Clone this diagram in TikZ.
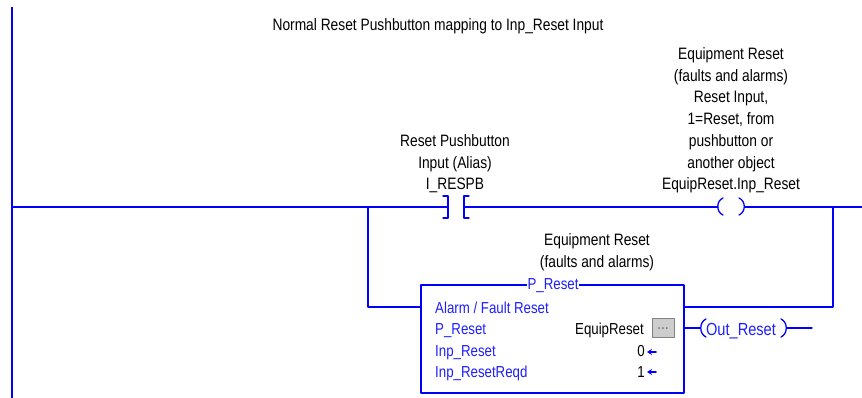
\documentclass[tikz,border=0pt]{standalone}
\usepackage{fontspec}
\setmainfont{Liberation Sans}[FakeStretch=0.835]
\usepackage{xcolor}
\usetikzlibrary{arrows.meta}
\definecolor{ladder}{RGB}{0,0,255}
\definecolor{ladtext}{RGB}{30,30,255}
\definecolor{btngray}{RGB}{205,205,205}
\definecolor{btnedge}{RGB}{130,130,130}
\newcommand{\lblfont}{\fontsize{16.5}{21.8}\selectfont}
\newcommand{\fbfont}{\fontsize{15.9}{21.3}\selectfont}

\begin{document}
\begin{tikzpicture}[x=1pt,y=-1pt,line cap=round,line join=round,
    wire/.style={draw=ladder,line width=1.3pt},
    lbl/.style={font=\lblfont,align=center,inner sep=0pt,anchor=base},
    fbtxt/.style={font=\fbfont,text=ladtext,inner sep=0pt,anchor=base west}]
	\useasboundingbox (0,0) rectangle (862,398);
	% power rail and rung
	\coordinate (railtop) at (12,7);
	\coordinate (railbot) at (12,398);
	\draw [wire,line width=2pt,line cap=butt] (railtop)-- (railbot);
	\coordinate (rungL) at (12,207);
	\coordinate (rungR) at (862,207);
	\coordinate (ctL) at (448,207);
	\coordinate (ctR) at (464,207);
	\coordinate (coilL) at (718,207);
	\coordinate (coilR) at (744,207);
	\draw [wire] (rungL)-- (ctL);
	\draw [wire] (ctR)-- (coilL);
	\draw [wire,line cap=butt] (coilR)-- (rungR);
	% contact I_RESPB
	\draw [wire] (443,196)-- (448,196)-- (448,218)-- (443,218);
	\draw [wire] (469,196)-- (464,196)-- (464,218)-- (469,218);
	% coil EquipReset.Inp_Reset
	\draw [wire] (723,198) .. controls (716,201) and (716,212) .. (723,215);
	\draw [wire] (739,198) .. controls (746,201) and (746,212) .. (739,215);
	% P_Reset block
	\node [draw=ladder,line width=1.2pt,minimum width=263pt,minimum height=108pt,inner sep=0pt] (fb) at (552.5,339) {};
	\node [font=\fbfont,text=ladtext,fill=white,inner xsep=1pt,inner ysep=0pt] (fbname) at (553,286) {P\_Reset};
	\coordinate (brL) at (368,207);
	\coordinate (fbin) at (421,307);
	\coordinate (fbout) at (684,307);
	\coordinate (brR) at (833,207);
	\draw [wire] (brL) |- (fbin);
	\draw [wire] (fbout) -| (brR);
	\node [fbtxt] (fbdesc) at (435,313) {Alarm / Fault Reset};
	\node [fbtxt] (fbtag) at (435,334) {P\_Reset};
	\node [fbtxt] (fbinp) at (435,356) {Inp\_Reset};
	\node [fbtxt] (fbreqd) at (435,377) {Inp\_ResetReqd};
	\node [font=\fbfont,inner sep=0pt,anchor=base east] (fbval) at (644,334) {EquipReset};
	\node [font=\fbfont,inner sep=0pt,anchor=base east] (inpval) at (645,356) {0};
	\node [font=\fbfont,inner sep=0pt,anchor=base east] (reqdval) at (645,377) {1};
	\node [draw=btnedge,fill=btngray,line width=0.9pt,minimum width=22pt,minimum height=19pt,inner sep=0pt,
	       font=\fontsize{17}{17}\selectfont,text=black!55] (btn) at (663,328) {\raisebox{-2pt}{...}};
	\coordinate (inparr) at (656,352);
	\coordinate (inptip) at (647,352);
	\coordinate (reqdarr) at (656,372);
	\coordinate (reqdtip) at (647,372);
	\draw [ladder,line width=1.5pt,-{Stealth[length=5pt,width=6pt]}] (inparr)-- (inptip);
	\draw [ladder,line width=1.5pt,-{Stealth[length=5pt,width=6pt]}] (reqdarr)-- (reqdtip);
	% output coil Out_Reset
	\coordinate (fbq) at (684,328);
	\coordinate (outL) at (700,328);
	\coordinate (outR) at (787,328);
	\coordinate (outEnd) at (812,328);
	\draw [wire] (fbq)-- (outL);
	\draw [wire] (outR)-- (outEnd);
	\draw [wire] (706,319) .. controls (699,322) and (699,334) .. (706,337);
	\draw [wire] (781,319) .. controls (788,322) and (788,334) .. (781,337);
	\node [font=\fontsize{17.5}{20}\selectfont,text=ladtext,inner sep=0pt,anchor=base] (outtag) at (741,335) {Out\_Reset};
	% comments
	\node [lbl] (title) at (438,30.7) {Normal Reset Pushbutton mapping to Inp\_Reset Input};
	\node [lbl] (pbdesc) at (455,190) {Reset Pushbutton\\Input (Alias)\\I\_RESPB};
	\node [lbl] (coildesc) at (731,190) {Equipment Reset\\(faults and alarms)\\Reset Input,\\1=Reset, from\\pushbutton or\\another object\\EquipReset.Inp\_Reset};
	\node [lbl] (fbcmt) at (597,267) {Equipment Reset\\(faults and alarms)};
\end{tikzpicture}
\end{document}
